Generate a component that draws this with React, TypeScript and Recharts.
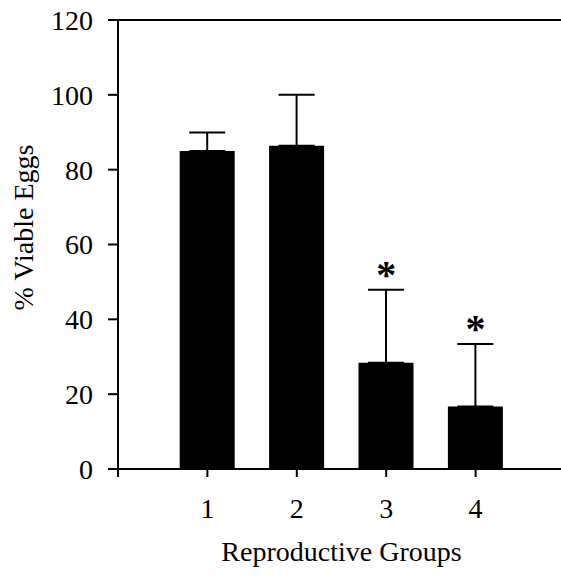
import { Bar, ComposedChart, ErrorBar, ReferenceLine, Scatter, XAxis, YAxis } from "recharts";

const groups = [1, 2, 3, 4];
const viable = [85, 86.4, 28.4, 16.7];
const sem = [4.9, 13.6, 19.5, 16.7];
const significant = [false, false, true, true];
const yTicks = [0, 20, 40, 60, 80, 100, 120];
const xTicks = [0, 1, 2, 3, 4, 5];

const data = groups.map((g, i) => ({
  group: g,
  viable: viable[i],
  err: [0, sem[i]],
  star: significant[i] ? viable[i] + sem[i] : null
}));

const font = "'Liberation Serif', 'Times New Roman', serif";

function Star(props: { cx?: number; cy?: number; payload?: { star: number | null } }) {
  const { cx, cy, payload } = props;
  if (cx == null || cy == null || payload?.star == null) return null;
  return (
    <text x={cx} y={cy - 2} textAnchor="middle" fontFamily={font} fontWeight="bold" fontSize={40} fill="#000">
      *
    </text>
  );
}

function YTitle(props: { viewBox?: { x: number; y: number; width: number; height: number } }) {
  const vb = props.viewBox;
  if (!vb) return null;
  const x = vb.x + 23;
  const y = vb.y + vb.height / 2 - 17;
  return (
    <text
      x={x}
      y={y}
      transform={`rotate(-90, ${x}, ${y})`}
      textAnchor="middle"
      dominantBaseline="central"
      fontFamily={font}
      fontSize={28}
      fill="#000"
    >
      % Viable Eggs
    </text>
  );
}

export default function App() {
  return (
    <div style={{ position: "absolute", left: 0, top: 0, width: 561, height: 576, overflow: "hidden", background: "#fff" }}>
      <ComposedChart width={570} height={576} data={data} margin={{ top: 20, right: 5, left: 0, bottom: 0 }}>
        <XAxis
          dataKey="group"
          type="number"
          domain={[0, 5]}
          ticks={xTicks}
          tickFormatter={(v: number) => (v >= 1 && v <= 4 ? String(v) : "")}
          axisLine={{ stroke: "#000", strokeWidth: 2 }}
          tickLine={{ stroke: "#000", strokeWidth: 2 }}
          tickSize={8}
          tickMargin={21}
          height={107}
          tick={{ fill: "#000", fontSize: 28, fontFamily: font }}
          label={{ value: "Reproductive Groups", position: "insideBottom", offset: 15, fill: "#000", fontSize: 28, fontFamily: font }}
        />
        <YAxis
          type="number"
          domain={[0, 120]}
          ticks={yTicks}
          width={118}
          axisLine={{ stroke: "#000", strokeWidth: 2 }}
          tickLine={{ stroke: "#000", strokeWidth: 2 }}
          tickSize={10}
          tickMargin={15}
          tick={{ fill: "#000", fontSize: 28, fontFamily: font }}
          label={<YTitle />}
        />
        <ReferenceLine y={120} stroke="#000" strokeWidth={2} />
        <Bar dataKey="viable" fill="#000" barSize={55} isAnimationActive={false}>
          <ErrorBar dataKey="err" width={18} stroke="#000" strokeWidth={2} direction="y" />
        </Bar>
        <Scatter dataKey="star" shape={<Star />} isAnimationActive={false} />
      </ComposedChart>
    </div>
  );
}
